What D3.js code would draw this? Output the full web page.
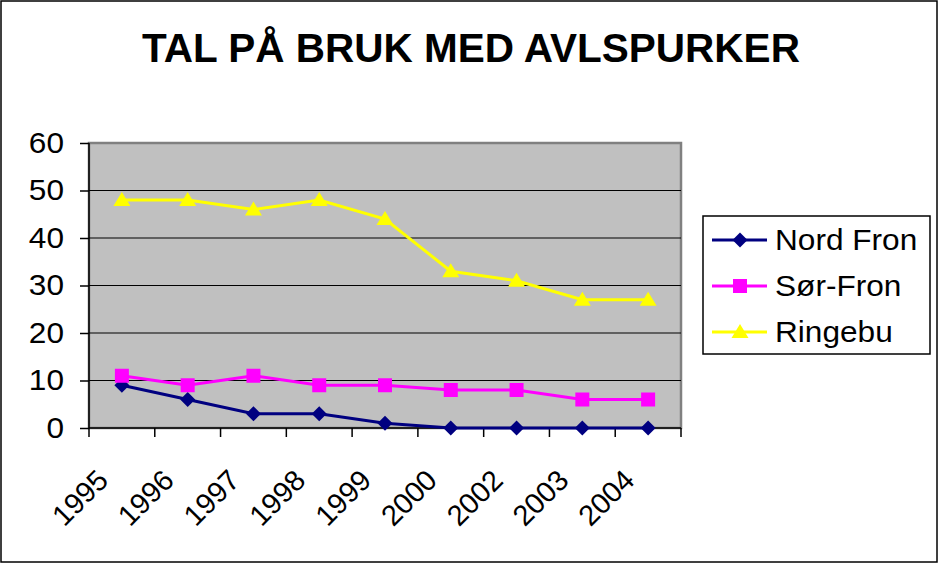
<!DOCTYPE html>
<html>
<head>
<meta charset="utf-8">
<script src="https://cdn.jsdelivr.net/npm/d3@7"></script>
<style>
  body { margin: 0; background: #fff; }
  text { font-family: Arial, "Liberation Sans", sans-serif; }
</style>
</head>
<body>
<div id="chart"></div>
<script>
const years = ["1995", "1996", "1997", "1998", "1999", "2000", "2002", "2003", "2004"];
const nordFron = [9, 6, 3, 3, 1, 0, 0, 0, 0];
const sorFron = [11, 9, 11, 9, 9, 8, 8, 6, 6];
const ringebu = [48, 48, 46, 48, 44, 33, 31, 27, 27];
const yTicks = [0, 10, 20, 30, 40, 50, 60];

const series = [
  { name: "Nord Fron", values: nordFron, color: "#000080", shape: "diamond" },
  { name: "Sør-Fron", values: sorFron, color: "#FF00FF", shape: "square" },
  { name: "Ringebu", values: ringebu, color: "#FFFF00", shape: "triangle" }
];

const W = 938, H = 563;
const plot = { left: 89, top: 143, right: 681, bottom: 428 };
const stretch = 1.09;

const svg = d3.select("#chart").append("svg")
  .attr("width", W)
  .attr("height", H);

// chart border
svg.append("rect")
  .attr("x", 1).attr("y", 1)
  .attr("width", W - 2).attr("height", H - 2)
  .attr("fill", "#fff")
  .attr("stroke", "#000")
  .attr("stroke-width", 1.5);

svg.append("text")
  .attr("x", 471).attr("y", 62)
  .attr("text-anchor", "middle")
  .attr("font-size", "40.5px")
  .attr("font-weight", "bold")
  .text("TAL PÅ BRUK MED AVLSPURKER");

const x = d3.scaleBand().domain(years).range([plot.left, plot.right]);
const y = d3.scaleLinear().domain([0, 60]).range([plot.bottom, plot.top]);

// plot area
svg.append("rect")
  .attr("x", plot.left).attr("y", plot.top)
  .attr("width", plot.right - plot.left).attr("height", plot.bottom - plot.top)
  .attr("fill", "#C0C0C0")
  .attr("stroke", "#808080")
  .attr("stroke-width", 2.5);

// gridlines
svg.append("g").selectAll("line")
  .data(yTicks.filter(d => d > 0 && d < 60))
  .join("line")
  .attr("x1", plot.left).attr("x2", plot.right)
  .attr("y1", d => y(d)).attr("y2", d => y(d))
  .attr("stroke", "#000")
  .attr("stroke-width", 1);

// y axis
const yAxis = svg.append("g")
  .attr("transform", `translate(${plot.left},0)`)
  .call(d3.axisLeft(y).tickValues(yTicks).tickSize(9).tickPadding(11));
yAxis.selectAll("path, line").attr("stroke", "#000").attr("stroke-width", 1.5);
yAxis.select("path.domain").attr("d", `M0,${plot.top}V${plot.bottom}`);
yAxis.selectAll("text")
  .attr("font-size", "29px")
  .attr("fill", "#000")
  .attr("font-family", "Arial, 'Liberation Sans', sans-serif")
  .attr("x", -25 / stretch)
  .attr("transform", `scale(${stretch},1)`);

// x axis ticks at band boundaries
const xAxisG = svg.append("g");
xAxisG.append("line")
  .attr("x1", plot.left).attr("x2", plot.right)
  .attr("y1", plot.bottom).attr("y2", plot.bottom)
  .attr("stroke", "#000").attr("stroke-width", 1.5);
xAxisG.selectAll("line.tick")
  .data(years.concat(["end"]))
  .join("line")
  .attr("class", "tick")
  .attr("x1", (d, i) => plot.left + i * x.bandwidth())
  .attr("x2", (d, i) => plot.left + i * x.bandwidth())
  .attr("y1", plot.bottom).attr("y2", plot.bottom + 9)
  .attr("stroke", "#000").attr("stroke-width", 1.5);
xAxisG.selectAll("text")
  .data(years)
  .join("text")
  .attr("text-anchor", "end")
  .attr("font-size", "29px")
  .attr("transform", d => `translate(${x(d) + x.bandwidth() / 2 - 12},${plot.bottom + 54}) rotate(-45)`)
  .text(d => d);

function marker(sel, shape, color) {
  if (shape === "diamond") {
    sel.append("path").attr("d", "M0,-7.5L7.5,0L0,7.5L-7.5,0Z").attr("fill", color);
  } else if (shape === "square") {
    sel.append("rect").attr("x", -7).attr("y", -7).attr("width", 14).attr("height", 14).attr("fill", color);
  } else {
    sel.append("path").attr("d", "M0,-8L8.5,6L-8.5,6Z").attr("fill", color);
  }
}

const line = d3.line()
  .x((d, i) => x(years[i]) + x.bandwidth() / 2)
  .y(d => y(d));

series.forEach(s => {
  svg.append("path")
    .datum(s.values)
    .attr("d", line)
    .attr("fill", "none")
    .attr("stroke", s.color)
    .attr("stroke-width", 3);
  s.values.forEach((v, i) => {
    const g = svg.append("g")
      .attr("transform", `translate(${x(years[i]) + x.bandwidth() / 2},${y(v)})`);
    marker(g, s.shape, s.color);
  });
});

// legend
const legend = svg.append("g");
legend.append("rect")
  .attr("x", 703).attr("y", 216)
  .attr("width", 227).attr("height", 138)
  .attr("fill", "#fff")
  .attr("stroke", "#000")
  .attr("stroke-width", 1.5);

series.forEach((s, i) => {
  const cy = 240 + i * 46;
  const g = legend.append("g");
  g.append("line")
    .attr("x1", 712).attr("x2", 767)
    .attr("y1", cy).attr("y2", cy)
    .attr("stroke", s.color).attr("stroke-width", 3);
  const m = g.append("g").attr("transform", `translate(740,${cy})`);
  marker(m, s.shape, s.color);
  g.append("text")
    .attr("transform", `translate(775,${cy}) scale(${stretch},1)`)
    .attr("dy", "0.36em")
    .attr("font-size", "29px")
    .text(s.name);
});
</script>
</body>
</html>
